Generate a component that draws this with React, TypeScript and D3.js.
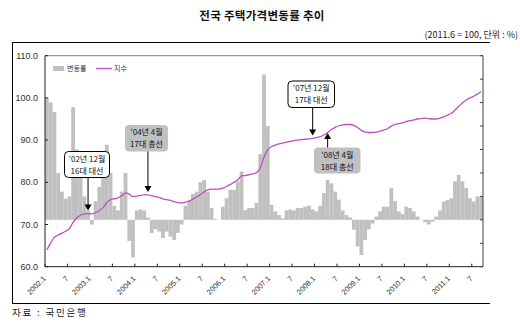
import React from "react";
import * as d3 from "d3";

const years = [2002, 2003, 2004, 2005, 2006, 2007, 2008, 2009, 2010, 2011];
const monthsInLastYear = 9;

// monthly change rate (%), right axis
const rate: number[] = [
  2.6, 2.5, 2.3, 1.0, 0.6, 0.45, 0.5, 2.4, 1.5, 1.2, 0.5, 0.2,
  -0.1, 0.4, 0.7, 0.9, 1.6, 1.0, 0.3, 0.2, 0.6, 1.0, -0.45, -0.8,
  0.2, 0.22, 0.2, 0.05, -0.28, -0.2, -0.25, -0.39, -0.25, -0.36, -0.43, -0.28,
  -0.1, 0.3, 0.4, 0.55, 0.6, 0.8, 0.85, 0.6, 0.25, 0.02, 0.0, 0.28,
  0.46, 0.64, 0.64, 0.82, 1.03, 0.21, 0.25, 0.25, 0.36, 1.4, 3.1, 2.0,
  0.32, 0.18, 0.1, 0.03, 0.2, 0.22, 0.2, 0.25, 0.25, 0.28, 0.3, 0.22,
  0.18, 0.3, 0.57, 0.85, 0.78, 0.6, 0.43, 0.2, 0.1, 0.05, -0.21, -0.57,
  -0.75, -0.43, -0.2, -0.08, 0.07, 0.18, 0.28, 0.28, 0.68, 0.4, 0.18, 0.12,
  0.28, 0.25, 0.18, 0.07, 0.0, -0.05, -0.1, -0.04, 0.07, 0.2, 0.39, 0.42,
  0.46, 0.82, 0.96, 0.82, 0.68, 0.46, 0.39, 0.5, 0.5,
];

// price index (2011.6 = 100), left axis
const index: number[] = [
  64.0, 65.6, 67.0, 67.5, 67.9, 68.4, 69.0, 70.5, 71.6, 72.2, 72.5, 72.6,
  72.5, 72.8, 73.3, 74.0, 75.2, 75.9, 76.1, 76.3, 76.8, 77.5, 77.2, 76.6,
  76.7, 76.9, 77.0, 77.0, 76.8, 76.6, 76.4, 76.1, 75.9, 75.7, 75.4, 75.2,
  75.1, 75.3, 75.6, 76.0, 76.5, 77.1, 77.7, 78.2, 78.4, 78.4, 78.4, 78.6,
  79.0, 79.5, 80.0, 80.6, 81.5, 81.6, 81.8, 82.0, 82.3, 83.4, 86.0, 87.7,
  88.5, 88.8, 89.1, 89.3, 89.5, 89.7, 89.9, 90.0, 90.1, 90.2, 90.3, 90.4,
  90.6, 90.8, 91.2, 91.8, 92.5, 93.0, 93.4, 93.6, 93.7, 93.7, 93.5, 93.0,
  92.3, 91.9, 91.8, 91.8, 91.9, 92.1, 92.4, 92.7, 93.3, 93.7, 93.9, 94.1,
  94.4, 94.6, 94.8, 95.0, 95.1, 95.2, 95.1, 95.0, 95.0, 95.2, 95.5, 95.9,
  96.3, 97.1, 98.0, 98.8, 99.5, 100.0, 100.4, 100.9, 101.5,
];

const leftTicks = [60, 70, 80, 90, 100, 110];
const rightTicks = [-1, -0.5, 0, 0.5, 1, 1.5, 2, 2.5, 3, 3.5];

const categories: string[] = [];
years.forEach((yr, yi) => {
  const n = yi === years.length - 1 ? monthsInLastYear : 12;
  for (let m = 1; m <= n; m++) categories.push(`${yr}.${m}`);
});

const annotations = [
  { cat: "2002.12", lines: ["'02년 12월", "16대 대선"], fill: "#ffffff", stroke: "#000", dir: "down", bx: 64.5, by: 151.5, bw: 45, bh: 26 },
  { cat: "2004.4", lines: ["'04년 4월", "17대 총선"], fill: "#c0c0c0", stroke: "none", dir: "down", bx: 125, by: 125, bw: 43, bh: 26.5 },
  { cat: "2007.12", lines: ["'07년 12월", "17대 대선"], fill: "#ffffff", stroke: "#000", dir: "down", bx: 288, by: 81, bw: 46.5, bh: 26.5 },
  { cat: "2008.4", lines: ["'08년 4월", "18대 총선"], fill: "#c0c0c0", stroke: "none", dir: "up", bx: 314, by: 147.5, bw: 46.5, bh: 26 },
];

const NUM_FONT = "'Liberation Sans', Arial, sans-serif";
const KR_FONT = "'Noto Sans CJK KR', sans-serif";

export default function App() {
  const W = 520, H = 323;
  const L = 45, R = 483, T = 55.7, B = 266.7;
  const x = d3.scaleBand<string>().domain(categories).range([L, R]).paddingInner(0).paddingOuter(0);
  const bw = x.bandwidth();
  const yL = d3.scaleLinear().domain([60, 110]).range([B, T]);
  const yR = d3.scaleLinear().domain([-1, 3.5]).range([B, T]);
  const cx = (c: string) => (x(c) as number) + bw / 2;

  const line = d3.line<number>()
    .x((_, i) => cx(categories[i]))
    .y((v) => yL(v))
    .curve(d3.curveMonotoneX);

  const xTickCats = categories.filter((_, i) => i % 6 === 0);

  return (
    <svg width={W} height={H} style={{ position: "absolute", left: 0, top: 0, background: "#fff" }}>
      <rect x={0} y={0} width={W} height={H} fill="#fff" />
      {/* title */}
      <text x={262} y={20} textAnchor="middle" fontFamily={KR_FONT} fontWeight="bold" fontSize={11.5} letterSpacing={0.3} fill="#111">전국 주택가격변동률 추이</text>
      <text x={518} y={38} textAnchor="end" fontFamily={KR_FONT} fontSize={9} fill="#222">(2011.6 = 100, 단위 : %)</text>
      {/* outer frame */}
      <line x1={12} x2={490} y1={42.5} y2={42.5} stroke="#000" strokeWidth={1} />
      <line x1={12} x2={490} y1={303.5} y2={303.5} stroke="#000" strokeWidth={1} />
      <line x1={12.5} x2={12.5} y1={42.5} y2={303.5} stroke="#000" strokeWidth={1} />

      {/* bars */}
      {rate.map((v, i) => (
        <rect key={i} x={x(categories[i])} width={bw + 0.05}
          y={Math.min(yR(v), yR(0))} height={Math.abs(yR(v) - yR(0))}
          fill="#c0c0c0" />
      ))}
      {/* line */}
      <path d={line(index) || ""} fill="none" stroke="#c04fc0" strokeWidth={1.3} />

      {/* plot frame */}
      <line x1={L} x2={R} y1={T} y2={T} stroke="#808080" strokeWidth={1} />
      <line x1={R} x2={R} y1={T} y2={B} stroke="#404040" strokeWidth={1} />
      <line x1={L} x2={L} y1={T} y2={B} stroke="#202020" strokeWidth={1} />
      <line x1={L} x2={R} y1={B} y2={B} stroke="#202020" strokeWidth={1} />

      {/* left axis */}
      {leftTicks.map((t) => (
        <g key={t}>
          <line x1={L} x2={L + 3} y1={yL(t)} y2={yL(t)} stroke="#202020" />
          <text x={38} y={yL(t) + 3} textAnchor="end" fontFamily={NUM_FONT} fontSize={9} fill="#333">{t.toFixed(1)}</text>
        </g>
      ))}
      {/* right axis ticks */}
      {rightTicks.map((t) => (
        <line key={t} x1={R - 3} x2={R} y1={yR(t)} y2={yR(t)} stroke="#404040" />
      ))}
      {/* x axis */}
      {xTickCats.map((c) => (
        <line key={c} x1={x(c)} x2={x(c)} y1={B} y2={B - 3} stroke="#202020" />
      ))}
      {xTickCats.map((c) => {
        const [yr, m] = c.split(".");
        const label = m === "1" ? `${yr}.1` : m;
        const px = cx(c) - 0.5, py = 279;
        return (
          <text key={c} x={px} y={py} transform={`rotate(-45 ${px} ${py})`} textAnchor="end"
            fontFamily={NUM_FONT} fontSize={7.5} fill="#333">{label}</text>
        );
      })}

      {/* legend */}
      <rect x={53} y={66} width={11} height={5} fill="#c0c0c0" />
      <text x={67} y={71} fontFamily={KR_FONT} fontSize={7} fill="#333">변동률</text>
      <line x1={96} x2={112} y1={68.5} y2={68.5} stroke="#c04fc0" strokeWidth={1.3} />
      <text x={114} y={71} fontFamily={KR_FONT} fontSize={7} fill="#333">지수</text>

      {/* annotations */}
      {annotations.map((a, k) => {
        const ax = cx(a.cat);
        const ly = yL(index[categories.indexOf(a.cat)]);
        const tipY = a.dir === "down" ? ly - 3 : ly + 0.5;
        const startY = a.dir === "down" ? a.by + a.bh : a.by;
        const headDir = a.dir === "down" ? 1 : -1;
        return (
          <g key={k}>
            <rect x={a.bx} y={a.by} width={a.bw} height={a.bh} rx={4} ry={4}
              fill={a.fill} stroke={a.stroke} strokeWidth={1} />
            {a.lines.map((t, j) => (
              <text key={j} x={a.bx + a.bw / 2} y={a.by + 10 + j * 12} textAnchor="middle"
                fontFamily={KR_FONT} fontSize={8} fill="#111">{t}</text>
            ))}
            <line x1={ax} x2={ax} y1={startY} y2={tipY - headDir * 5} stroke="#000" strokeWidth={1} />
            <path d={`M${ax - 3.5},${tipY - headDir * 6} L${ax + 3.5},${tipY - headDir * 6} L${ax},${tipY} Z`} fill="#000" />
          </g>
        );
      })}

      {/* source */}
      <text x={12} y={316} fontFamily={KR_FONT} fontSize={9.5} letterSpacing={1.8} fill="#222">자료 : 국민은행</text>
    </svg>
  );
}
